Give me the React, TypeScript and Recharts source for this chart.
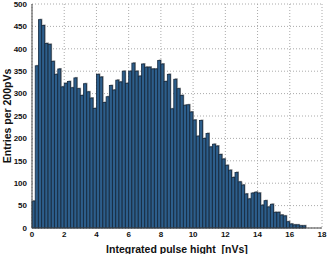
import React from 'react';
import { BarChart, Bar, XAxis, YAxis, CartesianGrid } from 'recharts';

// bin width 0.2 nVs, starting at 0
const binStarts: number[] = Array.from({ length: 85 }, (_, i) => +(i * 0.2).toFixed(1));
const counts: number[] = [
    60, 362, 465, 452, 412, 410, 372, 343, 355, 315,
    323, 327, 313, 335, 311, 296, 322, 304, 290, 267,
    343, 337, 280, 293, 318, 308, 330, 326, 350, 323,
    350, 368, 350, 339, 366, 359, 359, 355, 355, 374,
    366, 327, 343, 266, 332, 311, 296, 274, 275, 259,
    241, 205, 240, 200, 211, 181, 187, 183, 164, 154,
    140, 129, 113, 124, 103, 96, 76, 65, 78, 80,
    78, 51, 61, 47, 53, 35, 35, 29, 27, 14,
    9, 7, 7, 5, 5,
];
const xTicks = [0, 2, 4, 6, 8, 10, 12, 14, 16, 18];
const yTicks = [0, 50, 100, 150, 200, 250, 300, 350, 400, 450, 500];

const data = binStarts.map((x, i) => ({ x: x + 0.1, entries: counts[i] }));

const font = 'Liberation Sans, Arial, sans-serif';
const tickStyle = { fontSize: 8, fontWeight: 700, fill: '#111', fontFamily: font };
const labelStyle = { fontSize: 10.5, fontWeight: 700, fill: '#111', fontFamily: font };

const HistBar = (props: any) => {
    const { x, y, width, height } = props;
    if (!height || height <= 0) return null;
    return (
        <g>
            <rect x={x + 1} y={y - 1} width={width} height={height + 1} fill="#9a9a9a" />
            <rect x={x} y={y} width={width} height={height} fill="#2d5e8b" stroke="#152a40" strokeWidth={0.8} />
        </g>
    );
};

export default function App() {
    return (
        <div style={{ position: 'absolute', left: 0, top: 0, width: 327, height: 254, background: '#fff' }}>
            <BarChart
                width={327}
                height={254}
                data={data}
                barCategoryGap={0}
                margin={{ top: 4, right: 5, bottom: 0, left: 0 }}
            >
                <CartesianGrid xAxisId="bottom" yAxisId="left" stroke="#aaa" strokeDasharray="1 2" />
                <XAxis
                    xAxisId="bottom"
                    dataKey="x"
                    type="number"
                    domain={[0, 18]}
                    ticks={xTicks}
                    interval={0}
                    height={26}
                    tick={tickStyle}
                    tickSize={1}
                    tickLine={false}
                    axisLine={{ stroke: '#444', strokeWidth: 1 }}
                    label={{ value: 'Integrated pulse hight\u00a0 [nVs]', position: 'insideBottom', offset: 1, style: labelStyle }}
                />
                <XAxis
                    xAxisId="top"
                    orientation="top"
                    type="number"
                    domain={[0, 18]}
                    ticks={xTicks}
                    height={0}
                    mirror
                    tickSize={3}
                    tickFormatter={() => ''}
                    tickLine={{ stroke: '#444' }}
                    axisLine={{ stroke: '#444', strokeWidth: 1 }}
                />
                <YAxis
                    yAxisId="left"
                    domain={[0, 500]}
                    ticks={yTicks}
                    interval={0}
                    width={32}
                    tick={tickStyle}
                    tickSize={3}
                    tickLine={false}
                    axisLine={{ stroke: '#444', strokeWidth: 1 }}
                    label={{ value: 'Entries per 200pVs', angle: -90, position: 'insideLeft', offset: 7, style: { ...labelStyle, textAnchor: 'middle' } }}
                />
                <YAxis
                    yAxisId="right"
                    orientation="right"
                    domain={[0, 500]}
                    ticks={yTicks}
                    width={0}
                    mirror
                    tickSize={3}
                    tickFormatter={() => ''}
                    tickLine={{ stroke: '#444' }}
                    axisLine={{ stroke: '#444', strokeWidth: 1 }}
                />
                <Bar xAxisId="bottom" yAxisId="left" dataKey="entries" shape={HistBar} isAnimationActive={false} />
            </BarChart>
        </div>
    );
}
